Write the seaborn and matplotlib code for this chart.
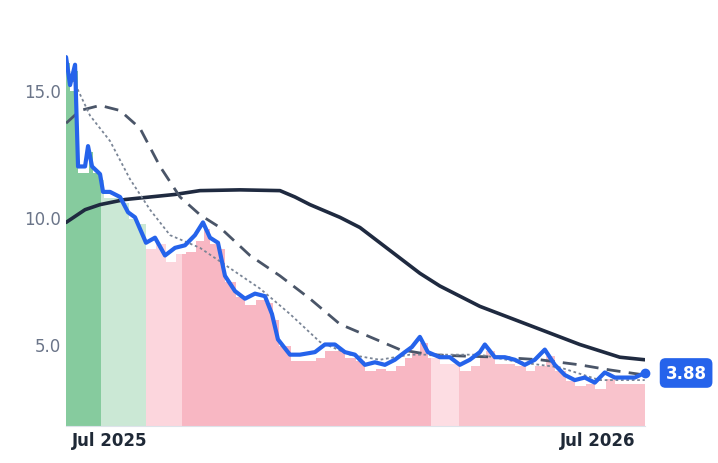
import numpy as np
import pandas as pd
import matplotlib
matplotlib.use("Agg")
import matplotlib.pyplot as plt
import matplotlib.dates as mdates
import seaborn as sns

start = pd.Timestamp("2025-05-29")
PX_PER_DAY = 1.337

# price readings (pixel-x of the reference converted to days below)
price_x = [66, 70, 75, 78, 85, 88, 92, 100, 103, 110, 120, 128, 135, 146, 155, 165, 175,
           185, 195, 203, 210, 218, 225, 235, 245, 255, 265, 272, 278, 290, 300, 315, 325,
           335, 345, 355, 365, 375, 385, 395, 405, 412, 420, 428, 440, 450, 460, 470, 480,
           485, 495, 505, 515, 525, 535, 545, 555, 565, 575, 585, 595, 605, 615, 625, 635, 645]
price = [16.3, 15.2, 16.0, 12.0, 12.0, 12.8, 12.0, 11.7, 11.0, 11.0, 10.8, 10.2, 10.0, 9.0,
         9.2, 8.5, 8.8, 8.9, 9.3, 9.8, 9.2, 9.0, 7.7, 7.1, 6.8, 7.0, 6.9, 6.2, 5.2, 4.6, 4.6,
         4.7, 5.0, 5.0, 4.7, 4.6, 4.2, 4.3, 4.2, 4.4, 4.7, 4.9, 5.3, 4.7, 4.5, 4.5, 4.2, 4.4,
         4.7, 5.0, 4.5, 4.5, 4.4, 4.2, 4.4, 4.8, 4.2, 3.8, 3.6, 3.7, 3.5, 3.9, 3.7, 3.7, 3.7, 3.88]

long_x = [66, 85, 100, 125, 150, 175, 200, 240, 280, 295, 310, 340, 360, 380, 400, 420, 440,
          460, 480, 500, 520, 540, 560, 580, 600, 620, 645]
long_ma = [9.8, 10.3, 10.5, 10.7, 10.8, 10.9, 11.05, 11.08, 11.05, 10.8, 10.5, 10.0, 9.6,
           9.0, 8.4, 7.8, 7.3, 6.9, 6.5, 6.2, 5.9, 5.6, 5.3, 5.0, 4.75, 4.5, 4.4]

mid_x = [66, 80, 100, 120, 140, 160, 180, 200, 220, 250, 280, 310, 340, 370, 400, 430, 460,
         500, 540, 580, 610, 645]
mid_ma = [13.7, 14.2, 14.4, 14.2, 13.5, 12.0, 10.8, 10.1, 9.6, 8.5, 7.7, 6.8, 5.8, 5.3, 4.8,
          4.6, 4.55, 4.5, 4.4, 4.2, 4.0, 3.8]

short_x = [66, 90, 110, 130, 150, 170, 200, 230, 260, 290, 320, 350, 380, 410, 440, 480, 520,
           560, 600, 645]
short_ma = [16.0, 14.0, 13.0, 11.5, 10.3, 9.3, 8.8, 8.0, 7.2, 6.2, 5.1, 4.6, 4.4, 4.6, 4.6,
            4.6, 4.3, 4.1, 3.6, 3.6]

# shaded zones: start pixel-x and colour
zone_x = [66, 100, 146, 181, 430, 458]
zone_colors = ["#86cb9e", "#cbe8d5", "#fcd6dd", "#f8b7c3", "#fddde3", "#f9c3cc"]


def to_dates(xs):
    return [start + pd.Timedelta(days=(x - 66) / PX_PER_DAY) for x in xs]


price_d = to_dates(price_x)
end = price_d[-1]
zone_d = to_dates(zone_x) + [end]

fig = plt.figure(figsize=(7.18, 4.64), dpi=100)
ax = fig.add_axes([0.092, 0.08, 0.806, 0.877])
sns.set_style("white")

# shaded bars under the price
days = pd.date_range(start, end, freq="D")
pser = pd.Series(price, index=price_d)
daily = pser.reindex(pser.index.union(days)).ffill().reindex(days)
for i in range(len(zone_x)):
    m = (days >= zone_d[i]) & (days < zone_d[i + 1] + pd.Timedelta(days=1))
    ax.bar(days[m], daily[m] - 0.25, width=1.05, color=zone_colors[i], linewidth=0, align="edge")

sns.lineplot(x=to_dates(long_x), y=long_ma, ax=ax, color="#1f2a40", lw=2.6)
sns.lineplot(x=to_dates(mid_x), y=mid_ma, ax=ax, color="#4a5568", lw=2.0,
             linestyle=(0, (5, 3)))
sns.lineplot(x=to_dates(short_x), y=short_ma, ax=ax, color="#7a8596", lw=1.3,
             linestyle=(0, (1.5, 1.5)))
sns.lineplot(x=price_d, y=price, ax=ax, color="#2563eb", lw=3.0)

ax.plot(end, price[-1], "o", color="#2563eb", ms=6, clip_on=False)
ax.annotate(f"{price[-1]:.2f}", (end, price[-1]), xytext=(15, 0), textcoords="offset points",
            va="center", ha="left", color="white", fontsize=12, fontweight="bold",
            bbox=dict(boxstyle="round,pad=0.35", fc="#2563eb", ec="none"))

ax.set_ylim(1.8, 17.8)
ax.set_xlim(start, end)
ax.set_yticks([5, 10, 15])
ax.set_yticklabels(["5.0", "10.0", "15.0"], color="#6b7589", fontsize=12)
ax.set_xticks([pd.Timestamp("2025-07-01"), pd.Timestamp("2026-07-01")])
ax.xaxis.set_major_formatter(mdates.DateFormatter("%b %Y"))
for t in ax.get_xticklabels():
    t.set_fontweight("bold")
    t.set_fontsize(12)
    t.set_color("#1f2937")
ax.tick_params(length=0, pad=4)
for s in ["top", "right", "left"]:
    ax.spines[s].set_visible(False)
ax.spines["bottom"].set_color("#dde3ea")
ax.set_xlabel("")
ax.set_ylabel("")
ax.grid(False)

fig.savefig("out.png", dpi=100)
